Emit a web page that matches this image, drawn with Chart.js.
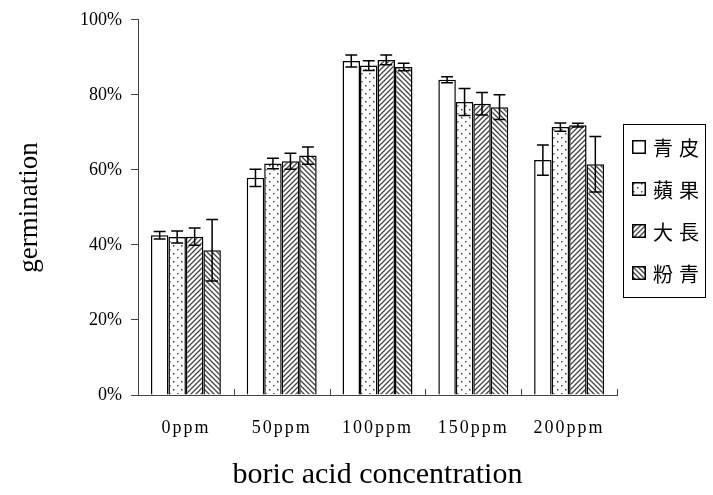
<!DOCTYPE html>
<html>
<head>
<meta charset="utf-8">
<script src="https://cdn.jsdelivr.net/npm/chart.js@4"></script>
<style>
  body { margin: 0; background: #fff; }
  #wrap { position: relative; width: 713px; height: 495px; }
  #legend {
    position: absolute; left: 623px; top: 124px; width: 83px; height: 174px;
    border: 1px solid #000; box-sizing: border-box;
    font-family: "Noto Sans CJK TC", "Noto Sans CJK SC", serif; font-size: 20px;
    letter-spacing: 6px;
  }
  .row { position: absolute; left: 8px; height: 24px; display: flex; align-items: center; }
  .row canvas { margin-right: 7px; }
</style>
</head>
<body>
<div id="wrap">
  <canvas id="chart" width="713" height="495"></canvas>
  <div id="legend"></div>
</div>
<script>
// categorias e séries (%)
const categories = ['0ppm', '50ppm', '100ppm', '150ppm', '200ppm'];
const varieties = ['青皮', '蘋果', '大長', '粉青'];

const qingpi = [42.6, 57.9, 89.0, 84.0, 62.6];
const qingpiErr = [1.0, 2.3, 1.6, 0.8, 4.0];
const pingguo = [42.1, 61.7, 87.8, 78.1, 71.4];
const pingguoErr = [1.6, 1.4, 1.3, 3.6, 1.1];
const dachang = [42.2, 62.3, 89.3, 77.6, 71.9];
const dachangErr = [2.3, 2.1, 1.3, 3.0, 0.5];
const fenqing = [38.6, 63.8, 87.4, 76.7, 61.5];
const fenqingErr = [8.2, 2.3, 1.0, 3.3, 7.4];

const yTicks = [0, 20, 40, 60, 80, 100];

// padrões de preenchimento das barras
function makePattern(type) {
  const c = document.createElement('canvas');
  const s = type === 'dots' ? 8 : 5;
  c.width = s; c.height = s;
  const g = c.getContext('2d');
  g.fillStyle = '#fff';
  g.fillRect(0, 0, s, s);
  if (type === 'dots') {
    g.fillStyle = '#444';
    g.fillRect(1, 1, 1.5, 1.5);
    g.fillRect(5, 5, 1.5, 1.5);
  } else if (type === 'fwd' || type === 'back') {
    g.strokeStyle = '#444';
    g.lineWidth = 1.3;
    g.beginPath();
    if (type === 'fwd') {
      g.moveTo(-1, s + 1); g.lineTo(s + 1, -1);
      g.moveTo(-1, 1); g.lineTo(1, -1);
      g.moveTo(s - 1, s + 1); g.lineTo(s + 1, s - 1);
    } else {
      g.moveTo(-1, -1); g.lineTo(s + 1, s + 1);
      g.moveTo(s - 1, -1); g.lineTo(s + 1, 1);
      g.moveTo(-1, s - 1); g.lineTo(1, s + 1);
    }
    g.stroke();
  }
  return g.createPattern(c, 'repeat');
}

const ctx = document.getElementById('chart').getContext('2d');
const patterns = ['none', 'dots', 'fwd', 'back'].map(makePattern);
const seriesData = [qingpi, pingguo, dachang, fenqing];
const seriesErr = [qingpiErr, pingguoErr, dachangErr, fenqingErr];

// barras de erro
const errorBars = {
  id: 'errorBars',
  afterDatasetsDraw(chart) {
    const y = chart.scales.y;
    const c = chart.ctx;
    c.save();
    c.strokeStyle = '#000';
    c.lineWidth = 1.5;
    chart.data.datasets.forEach((ds, di) => {
      const meta = chart.getDatasetMeta(di);
      meta.data.forEach((bar, i) => {
        const v = ds.data[i], e = seriesErr[di][i];
        const top = y.getPixelForValue(v + e);
        const bot = y.getPixelForValue(v - e);
        const hw = bar.width * 0.34;
        c.beginPath();
        c.moveTo(bar.x, top); c.lineTo(bar.x, bot);
        c.moveTo(bar.x - hw, top); c.lineTo(bar.x + hw, top);
        c.moveTo(bar.x - hw, bot); c.lineTo(bar.x + hw, bot);
        c.stroke();
      });
    });
    c.restore();
  }
};

// marcas do eixo x voltadas para dentro + rótulos espaçados
const innerTicks = {
  id: 'innerTicks',
  afterLayout(chart) {
    const sx = chart.scales.x;
    if (sx._spaced) return;
    const orig = sx.drawLabels.bind(sx);
    sx.drawLabels = (area) => {
      chart.ctx.save();
      chart.ctx.letterSpacing = '2px';
      orig(area);
      chart.ctx.restore();
    };
    sx._spaced = true;
  },
  afterDraw(chart) {
    const x = chart.scales.x;
    const c = chart.ctx;
    const step = x.getPixelForValue(1) - x.getPixelForValue(0);
    c.save();
    c.strokeStyle = '#444';
    c.lineWidth = 1;
    for (let i = 0; i <= categories.length; i++) {
      const px = Math.round(x.getPixelForValue(i) - step / 2) + 0.5;
      c.beginPath();
      c.moveTo(px, x.top);
      c.lineTo(px, x.top - 6);
      c.stroke();
    }
    c.restore();
  }
};

new Chart(ctx, {
  type: 'bar',
  data: {
    labels: categories,
    datasets: varieties.map((name, i) => ({
      label: name,
      data: seriesData[i],
      backgroundColor: patterns[i],
      borderColor: '#000',
      borderWidth: 1.5,
      barPercentage: 1.0,
      categoryPercentage: 0.73
    }))
  },
  options: {
    responsive: false,
    animation: false,
    layout: { padding: { top: 18, right: 96, left: 0, bottom: 0 } },
    plugins: { legend: { display: false }, tooltip: { enabled: false } },
    scales: {
      x: {
        grid: { display: false },
        border: { color: '#444', width: 1 },
        ticks: { color: '#000', padding: 14, font: { family: 'Liberation Serif', size: 18 } },
        title: {
          display: true, text: 'boric acid concentration', color: '#000',
          font: { family: 'Liberation Serif', size: 30 }, padding: { top: 0, bottom: 2 }
        },
        afterFit(scale) { scale.height = 100; }
      },
      y: {
        min: 0, max: 100,
        afterBuildTicks(scale) { scale.ticks = yTicks.map(v => ({ value: v })); },
        grid: { drawOnChartArea: false, tickLength: 7, color: '#444' },
        border: { color: '#444', width: 1 },
        ticks: {
          color: '#000', padding: 9,
          font: { family: 'Liberation Serif', size: 18 },
          callback: v => v + '%'
        },
        title: {
          display: true, text: 'germination', color: '#000',
          font: { family: 'Liberation Serif', size: 27 }, padding: { top: 14, bottom: 0 }
        },
        afterFit(scale) { scale.width = 138; }
      }
    }
  },
  plugins: [errorBars, innerTicks]
});

// legenda em HTML com os mesmos padrões
const legend = document.getElementById('legend');
varieties.forEach((name, i) => {
  const row = document.createElement('div');
  row.className = 'row';
  row.style.top = (10 + i * 42) + 'px';
  const sw = document.createElement('canvas');
  sw.width = 14; sw.height = 14;
  const g = sw.getContext('2d');
  g.fillStyle = patterns[i];
  g.fillRect(0, 0, 14, 14);
  g.strokeStyle = '#000';
  g.lineWidth = 1.5;
  g.strokeRect(0.75, 0.75, 12.5, 12.5);
  const t = document.createElement('span');
  t.textContent = name;
  row.appendChild(sw);
  row.appendChild(t);
  legend.appendChild(row);
});
</script>
</body>
</html>
